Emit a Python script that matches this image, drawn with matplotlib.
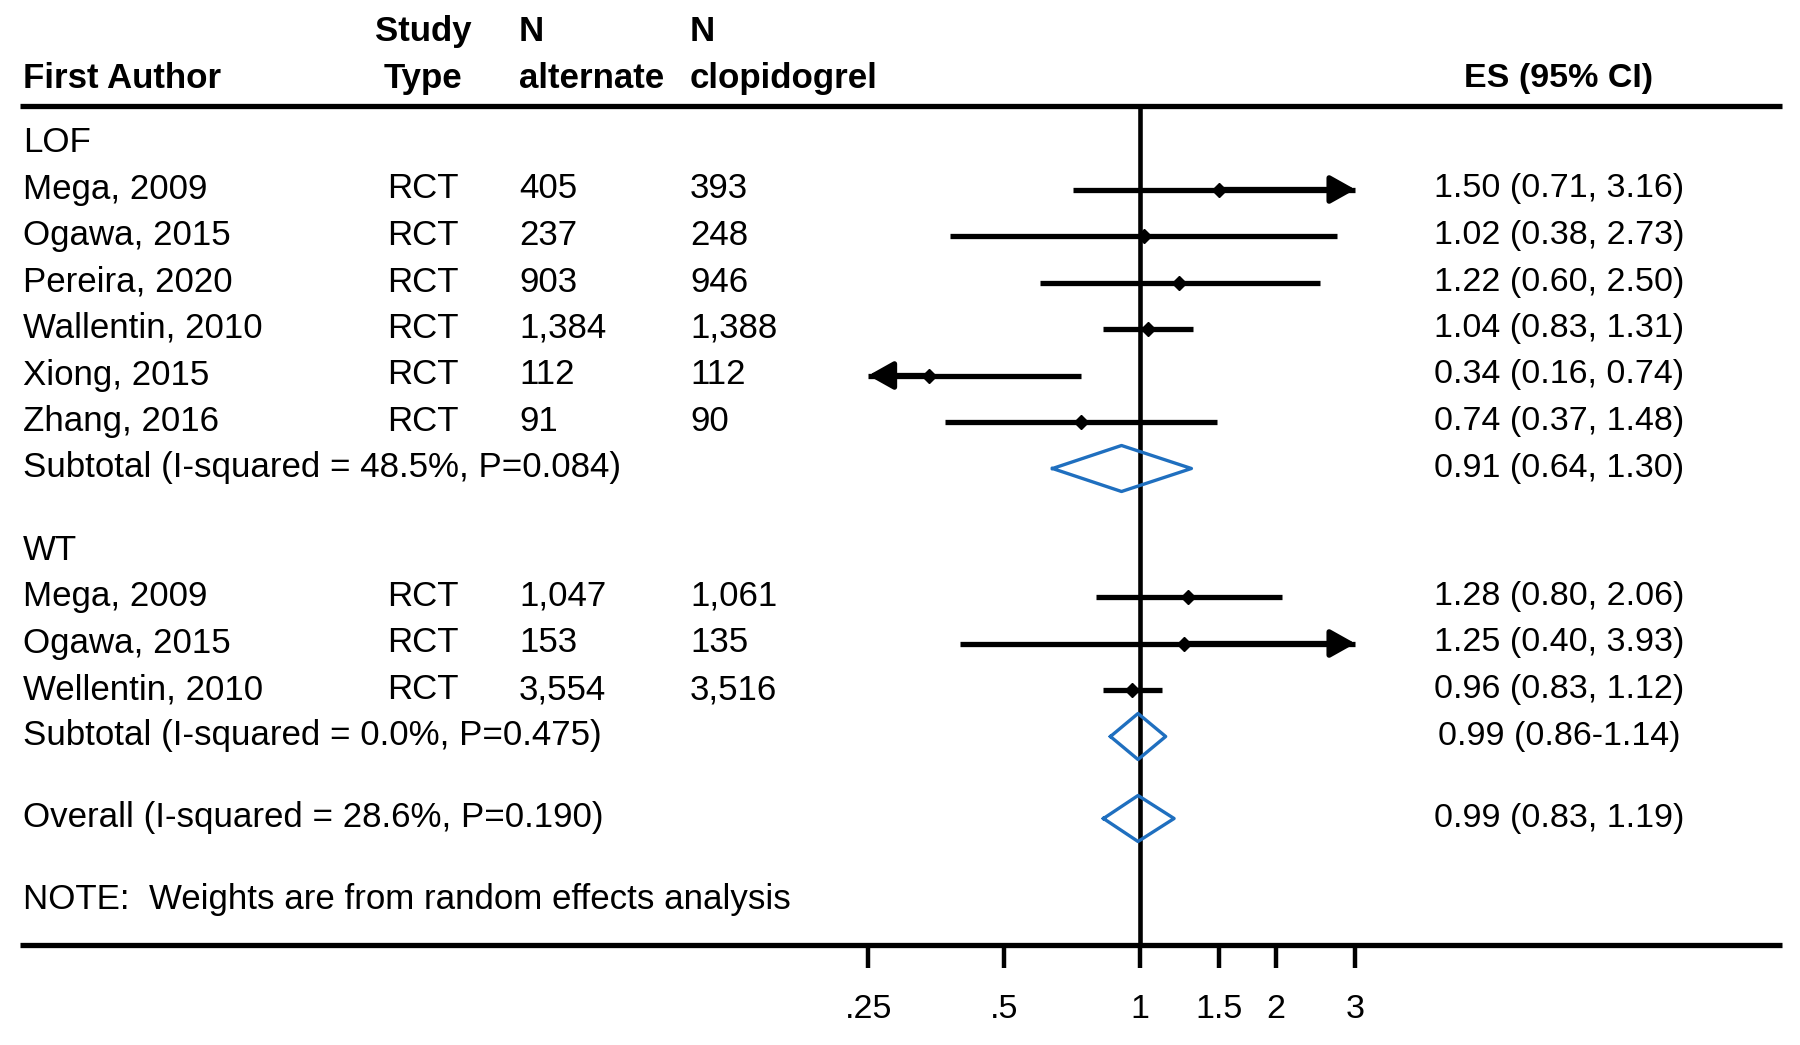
import matplotlib
matplotlib.use("Agg")
import matplotlib.pyplot as plt
import numpy as np

plt.rcParams["font.family"] = ["Liberation Sans", "DejaVu Sans"]

# data
lof_author = ["Mega, 2009", "Ogawa, 2015", "Pereira, 2020", "Wallentin, 2010", "Xiong, 2015", "Zhang, 2016"]
lof_type = ["RCT", "RCT", "RCT", "RCT", "RCT", "RCT"]
lof_n_alt = ["405", "237", "903", "1,384", "112", "91"]
lof_n_clo = ["393", "248", "946", "1,388", "112", "90"]
lof_es = [1.50, 1.02, 1.22, 1.04, 0.34, 0.74]
lof_lo = [0.71, 0.38, 0.60, 0.83, 0.16, 0.37]
lof_hi = [3.16, 2.73, 2.50, 1.31, 0.74, 1.48]
lof_sub = [0.91, 0.64, 1.30]
lof_sub_label = "Subtotal (I-squared = 48.5%, P=0.084)"
lof_sub_text = "0.91 (0.64, 1.30)"

wt_author = ["Mega, 2009", "Ogawa, 2015", "Wellentin, 2010"]
wt_type = ["RCT", "RCT", "RCT"]
wt_n_alt = ["1,047", "153", "3,554"]
wt_n_clo = ["1,061", "135", "3,516"]
wt_es = [1.28, 1.25, 0.96]
wt_lo = [0.80, 0.40, 0.83]
wt_hi = [2.06, 3.93, 1.12]
wt_sub = [0.99, 0.86, 1.14]
wt_sub_label = "Subtotal (I-squared = 0.0%, P=0.475)"
wt_sub_text = "0.99 (0.86-1.14)"

overall = [0.99, 0.83, 1.19]
overall_label = "Overall (I-squared = 28.6%, P=0.190)"
overall_text = "0.99 (0.83, 1.19)"
note = "NOTE:  Weights are from random effects analysis"

tick_vals = [0.25, 0.5, 1, 1.5, 2, 3]
tick_labels = [".25", ".5", "1", "1.5", "2", "3"]

# ── layout (pixel units of the 1800x1045 canvas) ──────────────────────────────
W, H = 1800, 1045
X1_PX, PX_PER_LN = 1140, 196          # where ES=1 sits, and scale of the log axis
XMIN, XMAX = tick_vals[0], tick_vals[-1]
FS = 25.1        # table text
FS_ES = 24.5     # ES column and axis labels
STEP = 46.5
GAP = 82
TEXT_DY = 3.5
MARK_DY = 4
COL_AUTHOR, COL_TYPE, COL_NALT, COL_NCLO, COL_ES = 23, 423, 519, 690, 1559
DIAMOND_H = 23
BLUE = "#1f6fbf"
CI_LW = 3.8

fig = plt.figure(figsize=(W / 100, H / 100), dpi=100)
tx = fig.add_axes([0, 0, 1, 1])
tx.set_xlim(0, W)
tx.set_ylim(H, 0)
tx.axis("off")

ax = fig.add_axes([0, 0, 1, 1])
ax.set_xscale("log")
ax.set_xlim(np.exp(-X1_PX / PX_PER_LN), np.exp((W - X1_PX) / PX_PER_LN))
ax.set_ylim(H, 0)
ax.axis("off")


def row_text(y, cells, bold=False):
    w = "bold" if bold else "normal"
    for x, s, ha in cells:
        if s:
            fs = FS_ES if x == COL_ES else FS
            tx.text(x, y + TEXT_DY, s, fontsize=fs, ha=ha, va="center", fontweight=w)


def study(y, es, lo, hi):
    ym = y + MARK_DY
    left, right = max(lo, XMIN), min(hi, XMAX)
    ax.plot([left, right], [ym, ym], color="black", lw=CI_LW, solid_capstyle="butt", zorder=3)
    akw = dict(arrowstyle="-|>,head_length=0.75,head_width=0.42", color="black", lw=CI_LW,
               shrinkA=0, shrinkB=0, mutation_scale=20)
    if hi > XMAX:
        ax.annotate("", xy=(XMAX, ym), xytext=(es, ym), arrowprops=akw, zorder=3)
    if lo < XMIN:
        ax.annotate("", xy=(XMIN, ym), xytext=(es, ym), arrowprops=akw, zorder=3)
    ax.plot([es], [ym], marker="D", ms=7.5, color="black", zorder=4)


def diamond(y, est, lo, hi):
    ym = y + MARK_DY
    xs = [lo, est, hi, est, lo]
    ys = [ym, ym - DIAMOND_H, ym, ym + DIAMOND_H, ym]
    ax.plot(xs, ys, color=BLUE, lw=2.4, zorder=5)


# header
row_text(28, [(COL_TYPE, "Study", "center"), (COL_NALT, "N", "left"), (COL_NCLO, "N", "left")], bold=True)
row_text(75, [(COL_AUTHOR, "First Author", "left"), (COL_TYPE, "Type", "center"),
              (COL_NALT, "alternate", "left"), (COL_NCLO, "clopidogrel", "left"),
              (COL_ES, "ES (95% CI)", "center")], bold=True)
tx.plot([20, 1782], [106, 106], color="black", lw=3.8, solid_capstyle="butt")

y = 139
groups = [
    ("LOF", lof_author, lof_type, lof_n_alt, lof_n_clo, lof_es, lof_lo, lof_hi, lof_sub, lof_sub_label, lof_sub_text),
    ("WT", wt_author, wt_type, wt_n_alt, wt_n_clo, wt_es, wt_lo, wt_hi, wt_sub, wt_sub_label, wt_sub_text),
]
for name, auth, typ, nal, ncl, es, lo, hi, sub, sub_label, sub_text in groups:
    row_text(y, [(COL_AUTHOR, name, "left")])
    for i in range(len(auth)):
        y += STEP
        row_text(y, [(COL_AUTHOR, auth[i], "left"), (COL_TYPE, typ[i], "center"),
                     (COL_NALT, nal[i], "left"), (COL_NCLO, ncl[i], "left"),
                     (COL_ES, f"{es[i]:.2f} ({lo[i]:.2f}, {hi[i]:.2f})", "center")])
        study(y, es[i], lo[i], hi[i])
    y += STEP
    row_text(y, [(COL_AUTHOR, sub_label, "left"), (COL_ES, sub_text, "center")])
    diamond(y, *sub)
    y += GAP

row_text(y, [(COL_AUTHOR, overall_label, "left"), (COL_ES, overall_text, "center")])
diamond(y, *overall)
row_text(y + GAP, [(COL_AUTHOR, note, "left")])

# null line, bottom rule and ticks
ax.plot([1, 1], [106, 945], color="black", lw=3.3, solid_capstyle="butt", zorder=2)
tx.plot([20, 1782], [945, 945], color="black", lw=3.8, solid_capstyle="butt")
ax.vlines(tick_vals, 945, 968, color="black", lw=3.2)
for v, lab in zip(tick_vals, tick_labels):
    ax.text(v, 1010, lab, fontsize=FS_ES, ha="center", va="center")

fig.savefig("out.png", dpi=100)
